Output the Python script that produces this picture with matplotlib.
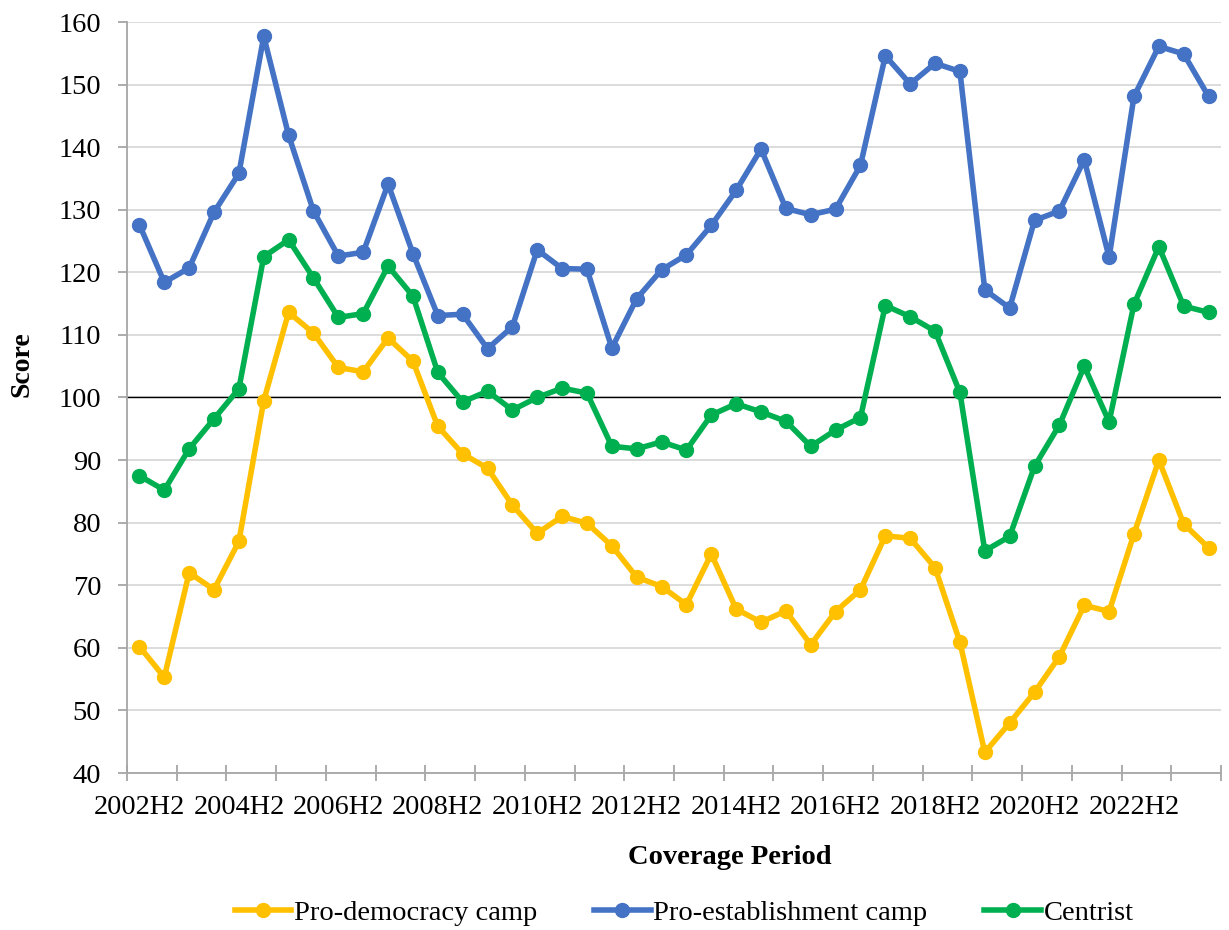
import matplotlib

matplotlib.use("Agg")
import matplotlib.pyplot as plt
from matplotlib.ticker import FixedLocator, NullFormatter
import numpy as np

plt.rcParams["font.family"] = ["Liberation Serif", "DejaVu Serif"]

# half-year coverage periods, 2002H2 .. 2024H1
periods = []
for y in range(2002, 2025):
    for h in (1, 2):
        if (y, h) >= (2002, 2) and (y, h) <= (2024, 1):
            periods.append(f"{y}H{h}")

pro_democracy = [
    60.2, 55.3, 72.0, 69.3, 77.0, 99.5, 113.6, 110.3, 104.8, 104.1,
    109.5, 105.8, 95.4, 91.0, 88.7, 82.8, 78.3, 81.0, 79.9, 76.3,
    71.3, 69.8, 66.9, 75.0, 66.2, 64.1, 65.9, 60.5, 65.8, 69.3,
    77.9, 77.5, 72.8, 60.9, 43.3, 48.0, 52.9, 58.6, 66.8, 65.8,
    78.2, 90.0, 79.8, 76.0,
]
pro_establishment = [
    127.6, 118.4, 120.7, 129.6, 135.8, 157.7, 141.9, 129.8, 122.6, 123.2,
    134.1, 123.0, 113.1, 113.3, 107.8, 111.3, 123.6, 120.6, 120.5, 107.9,
    115.8, 120.4, 122.8, 127.5, 133.1, 139.7, 130.2, 129.2, 130.1, 137.1,
    154.6, 150.1, 153.4, 152.1, 117.2, 114.3, 128.3, 129.8, 138.0, 122.4,
    148.1, 156.1, 154.9, 148.1,
]
centrist = [
    87.5, 85.2, 91.8, 96.6, 101.4, 122.5, 125.2, 119.1, 112.8, 113.4,
    121.0, 116.2, 104.0, 99.3, 101.0, 98.0, 100.0, 101.5, 100.7, 92.2,
    91.8, 92.9, 91.6, 97.2, 99.0, 97.7, 96.2, 92.2, 94.8, 96.8,
    114.7, 112.9, 110.6, 100.8, 75.5, 77.8, 89.0, 95.6, 105.0, 96.1,
    114.9, 124.1, 114.6, 113.6,
]

series_names = ["Pro-democracy camp", "Pro-establishment camp", "Centrist"]
series_colors = ["#FFC000", "#4472C4", "#00B050"]
y_ticks = list(range(40, 161, 10))
reference_level = 100

fig = plt.figure(figsize=(12.29, 9.30), dpi=100)
ax = fig.add_axes([127 / 1229, 1 - 773 / 930, (1221 - 127) / 1229, (773 - 22) / 930])

x = np.arange(len(periods))
for vals, name, color in zip([pro_democracy, pro_establishment, centrist], series_names, series_colors):
    ax.plot(x, vals, color=color, lw=4.0, marker="o", ms=10, label=name,
            solid_joinstyle="round", zorder=3)

ax.axhline(reference_level, color="black", lw=1.0, zorder=2)

ax.set_xlim(-0.5, len(periods) - 0.5)
ax.set_ylim(40, 160)
ax.set_yticks(y_ticks)
ax.yaxis.grid(True, color="#D9D9D9", lw=1.3, zorder=0)
ax.set_axisbelow(True)

# labels every 4th period, tick marks every 2nd category boundary
label_pos = x[::4][:11]
ax.xaxis.set_major_locator(FixedLocator(label_pos))
ax.set_xticklabels([periods[i] for i in label_pos])
ax.xaxis.set_minor_locator(FixedLocator(np.arange(-0.5, len(periods), 2)))
ax.xaxis.set_minor_formatter(NullFormatter())
ax.tick_params(axis="x", which="major", length=0, pad=16, labelsize=20.3)
ax.tick_params(axis="x", which="minor", direction="inout", length=12, width=1.3, color="#A6A6A6")
ax.tick_params(axis="y", direction="out", length=6.5, width=1.3, color="#A6A6A6", pad=12, labelsize=20.5)

for side in ("top", "right"):
    ax.spines[side].set_visible(False)
for side in ("left", "bottom"):
    ax.spines[side].set_color("#A6A6A6")
    ax.spines[side].set_linewidth(1.3)

fig.text(730 / 1229, 1 - 857 / 930, "Coverage Period", ha="center", va="center",
         fontsize=20.5, fontweight="bold")
fig.text(22 / 1229, 1 - 364 / 930, "Score", ha="center", va="center",
         rotation=90, fontsize=20, fontweight="bold")

fig.legend(loc="center", bbox_to_anchor=(684 / 1229, 1 - 913 / 930), ncol=3,
           frameon=False, fontsize=20.5, handlelength=2.0, handletextpad=0.08,
           columnspacing=2.0, markerscale=1.0)

fig.savefig("out.png", dpi=100)
